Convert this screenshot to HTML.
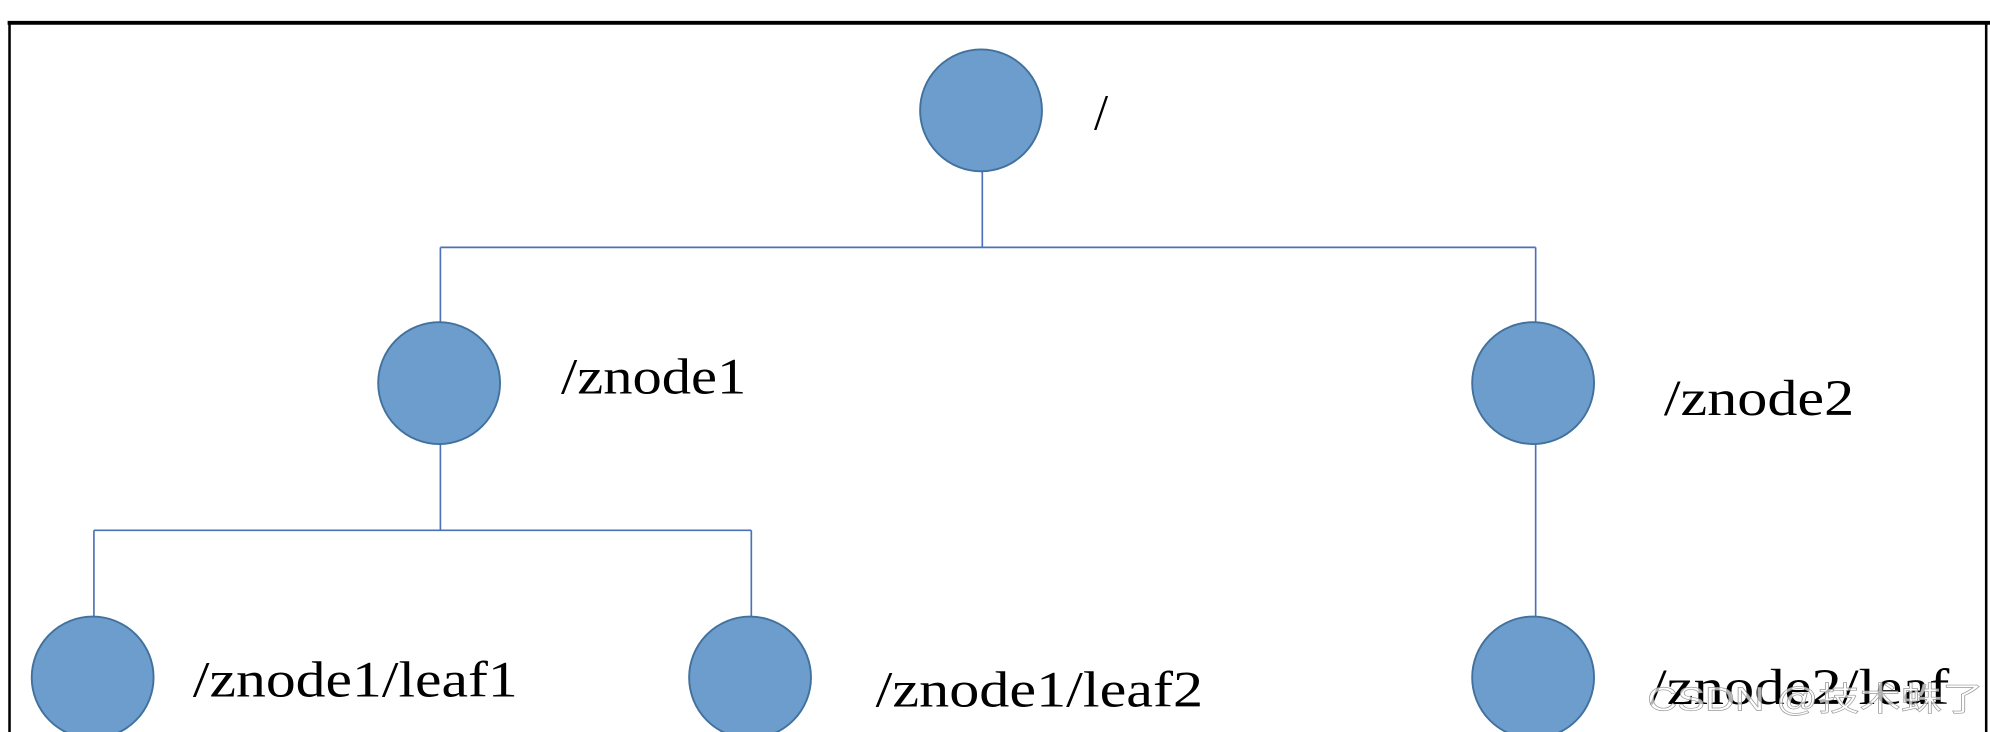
<!DOCTYPE html>
<html><head><style>html,body{margin:0;padding:0;background:#fff;}svg{display:block}</style></head>
<body>
<svg width="1990" height="732" viewBox="0 0 1568 577" preserveAspectRatio="none" xmlns="http://www.w3.org/2000/svg">
<rect x="0" y="0" width="1568" height="577" fill="#fff"/>
<line x1="6" y1="18" x2="1568" y2="18" stroke="#000" stroke-width="3"/>
<line x1="7.5" y1="18" x2="7.5" y2="577" stroke="#000" stroke-width="2"/>
<line x1="1565" y1="18" x2="1565" y2="577" stroke="#000" stroke-width="2"/>
<g stroke="#4a72b8" stroke-width="1.3" fill="none">
<line x1="774" y1="135" x2="774" y2="195"/>
<line x1="347" y1="195" x2="1210" y2="195"/>
<line x1="347" y1="195" x2="347" y2="255"/>
<line x1="1210" y1="195" x2="1210" y2="255"/>
<line x1="347" y1="350" x2="347" y2="418"/>
<line x1="74" y1="418" x2="592" y2="418"/>
<line x1="74" y1="418" x2="74" y2="486"/>
<line x1="592" y1="418" x2="592" y2="486"/>
<line x1="1210" y1="350" x2="1210" y2="486"/>
</g>
<g fill="#6d9dcd" stroke="#41719c" stroke-width="1.5">
<circle cx="773" cy="87" r="48"/>
<circle cx="346" cy="302" r="48"/>
<circle cx="1208" cy="302" r="48"/>
<circle cx="73" cy="534" r="48"/>
<circle cx="591" cy="534" r="48"/>
<circle cx="1208" cy="534" r="48"/>
</g>
<g font-family="Liberation Serif, serif" font-size="40" fill="#000">
<text x="862" y="102">/</text>
<text x="442" y="310" textLength="146" lengthAdjust="spacingAndGlyphs">/znode1</text>
<text x="1311" y="327" textLength="150" lengthAdjust="spacingAndGlyphs">/znode2</text>
<text x="152" y="549" textLength="256" lengthAdjust="spacingAndGlyphs">/znode1/leaf1</text>
<text x="690" y="557" textLength="258" lengthAdjust="spacingAndGlyphs">/znode1/leaf2</text>
<text x="1300" y="555" textLength="236" lengthAdjust="spacingAndGlyphs">/znode2/leaf</text>
</g>
<text x="1298" y="560" font-family="Liberation Sans, 'Noto Sans CJK SC', sans-serif" font-size="26" fill="#fff" fill-opacity="0.7" stroke="#999" stroke-width="0.5" textLength="265" lengthAdjust="spacingAndGlyphs">CSDN @技术蛛了</text>
</svg>
</body></html>
